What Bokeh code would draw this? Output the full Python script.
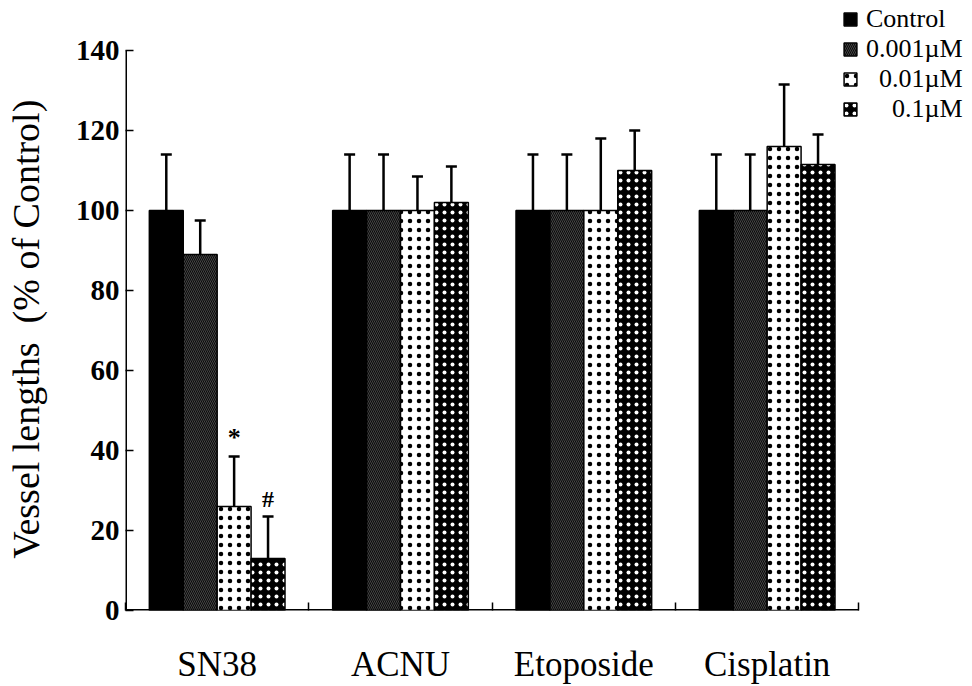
from bokeh.plotting import figure
from bokeh.models import ColumnDataSource, Range1d, FixedTicker, Whisker, TeeHead
from bokeh.transform import dodge
from bokeh.core.properties import value
from bokeh.embed import file_html
from bokeh.resources import INLINE

# Drugs on the x axis, concentrations as the bar series
groups = ["SN38", "ACNU", "Etoposide", "Cisplatin"]
series = ["Control", "0.001µM", "0.01µM", "0.1µM"]
legend_labels = ["Control", "0.001µM", "\u00a0\u00a00.01µM", "\u00a0\u00a0\u00a0\u00a00.1µM"]

# Mean vessel length (% of control) per drug, one list per concentration
mean_control = [100, 100, 100, 100]
mean_0001 = [89, 100, 100, 100]
mean_001 = [26, 100, 100, 116]
mean_01 = [13, 102, 110, 111.5]

# Upper error (SD) per drug
sd_control = [14, 14, 14, 14]
sd_0001 = [8.5, 14, 14, 14]
sd_001 = [12.5, 8.5, 18, 15.5]
sd_01 = [10.5, 9, 10, 7.5]

# Significance marks drawn above the error bars
sig_001 = ["*", "", "", ""]
sig_01 = ["#", "", "", ""]

y_ticks = [0, 20, 40, 60, 80, 100, 120, 140]

means = [mean_control, mean_0001, mean_001, mean_01]
sds = [sd_control, sd_0001, sd_001, sd_01]
sigs = [None, None, sig_001, sig_01]

offsets = [-0.2775, -0.0925, 0.0925, 0.2775]
bar_width = 0.185

styles = [
    dict(fill_color="black"),
    dict(fill_color="#0a0a0a", hatch_pattern="left_diagonal_line", hatch_color="white",
         hatch_scale=4, hatch_weight=0.8, hatch_alpha=0.3),
    dict(fill_color="white", hatch_pattern="dot", hatch_color="black",
         hatch_scale=9, hatch_weight=1),
    dict(fill_color="black", hatch_pattern="dot", hatch_color="white",
         hatch_scale=8, hatch_weight=1),
]

SERIF = "Liberation Serif"

gx = list(range(len(groups)))
x_lo, x_hi = gx[0] - 0.5, gx[-1] + 0.5
y_lo, y_hi = y_ticks[0], y_ticks[-1]

# The frame reaches up to the legend at the top right; the axis lines
# themselves are drawn only over the data extent.
p = figure(width=972, height=686, output_backend="svg", toolbar_location=None,
           x_range=Range1d(x_lo, 4.12), y_range=Range1d(y_lo, 152.5),
           min_border_left=125, min_border_right=0, min_border_top=0,
           min_border_bottom=76)
p.outline_line_color = None
p.xgrid.visible = False
p.ygrid.visible = False
p.background_fill_color = "white"

p.segment(x0=[x_lo, x_lo], y0=[y_lo, y_lo], x1=[x_lo, x_hi], y1=[y_hi, y_lo],
          line_color="black", line_width=3)

for i, name in enumerate(series):
    upper = [m + s for m, s in zip(means[i], sds[i])]
    data = dict(gx=gx, mean=means[i], upper=upper)
    if sigs[i] is not None:
        data["sig"] = sigs[i]
    src = ColumnDataSource(data)
    xs = dodge("gx", offsets[i])
    p.vbar(x=xs, top="mean", bottom=0, width=bar_width, source=src,
           line_color="black", line_width=1.5, legend_label=legend_labels[i],
           **styles[i])
    w = Whisker(source=src, base=xs, lower="mean", upper="upper",
                dimension="height", line_color="black", line_width=2.5,
                upper_head=TeeHead(size=11, line_width=2.5, line_color="black"),
                lower_head=None)
    p.add_layout(w)
    if sigs[i] is not None:
        p.text(x=xs, y="upper", text="sig", source=src, y_offset=-5,
               text_align="center", text_baseline="bottom",
               text_font=value(SERIF), text_font_style="bold",
               text_font_size="26px" if i == 2 else "24px", text_color="black")

# y axis: inward ticks every 20
ya = p.yaxis[0]
ya.ticker = FixedTicker(ticks=y_ticks)
ya.axis_line_color = None
ya.major_tick_in = 8
ya.major_tick_out = 0
ya.minor_tick_line_color = None
ya.major_tick_line_width = 1.5
ya.major_label_text_font = SERIF
ya.major_label_text_font_style = "bold"
ya.major_label_text_font_size = "29px"
ya.major_label_text_color = "black"
ya.major_label_standoff = 6
ya.axis_label = "Vessel lengths\u00a0 (% of Control)" + "\u00a0" * 5
ya.axis_label_text_font = SERIF
ya.axis_label_text_font_style = "normal"
ya.axis_label_text_font_size = "38px"
ya.axis_label_text_color = "black"
ya.axis_label_standoff = 26

# x axis: labels at group centres, inward ticks at group boundaries
xa = p.xaxis[0]
xa.ticker = FixedTicker(ticks=gx, minor_ticks=[g - 0.5 for g in gx] + [x_hi])
xa.major_label_overrides = {g: name for g, name in zip(gx, groups)}
xa.axis_line_color = None
xa.major_tick_line_color = None
xa.minor_tick_in = 8
xa.minor_tick_out = 0
xa.minor_tick_line_width = 1.5
xa.major_label_text_font = SERIF
xa.major_label_text_font_size = "35px"
xa.major_label_text_color = "black"
xa.major_label_standoff = 28

lg = p.legend[0]
lg.location = (717, 486)
lg.border_line_color = None
lg.background_fill_alpha = 0
lg.padding = 0
lg.margin = 0
lg.spacing = 0
lg.glyph_width = 16
lg.glyph_height = 16
lg.label_height = 27
lg.label_standoff = 8
lg.label_text_font = SERIF
lg.label_text_font_size = "26px"
lg.label_text_color = "black"

open("out.html", "w").write(file_html(p, INLINE))
